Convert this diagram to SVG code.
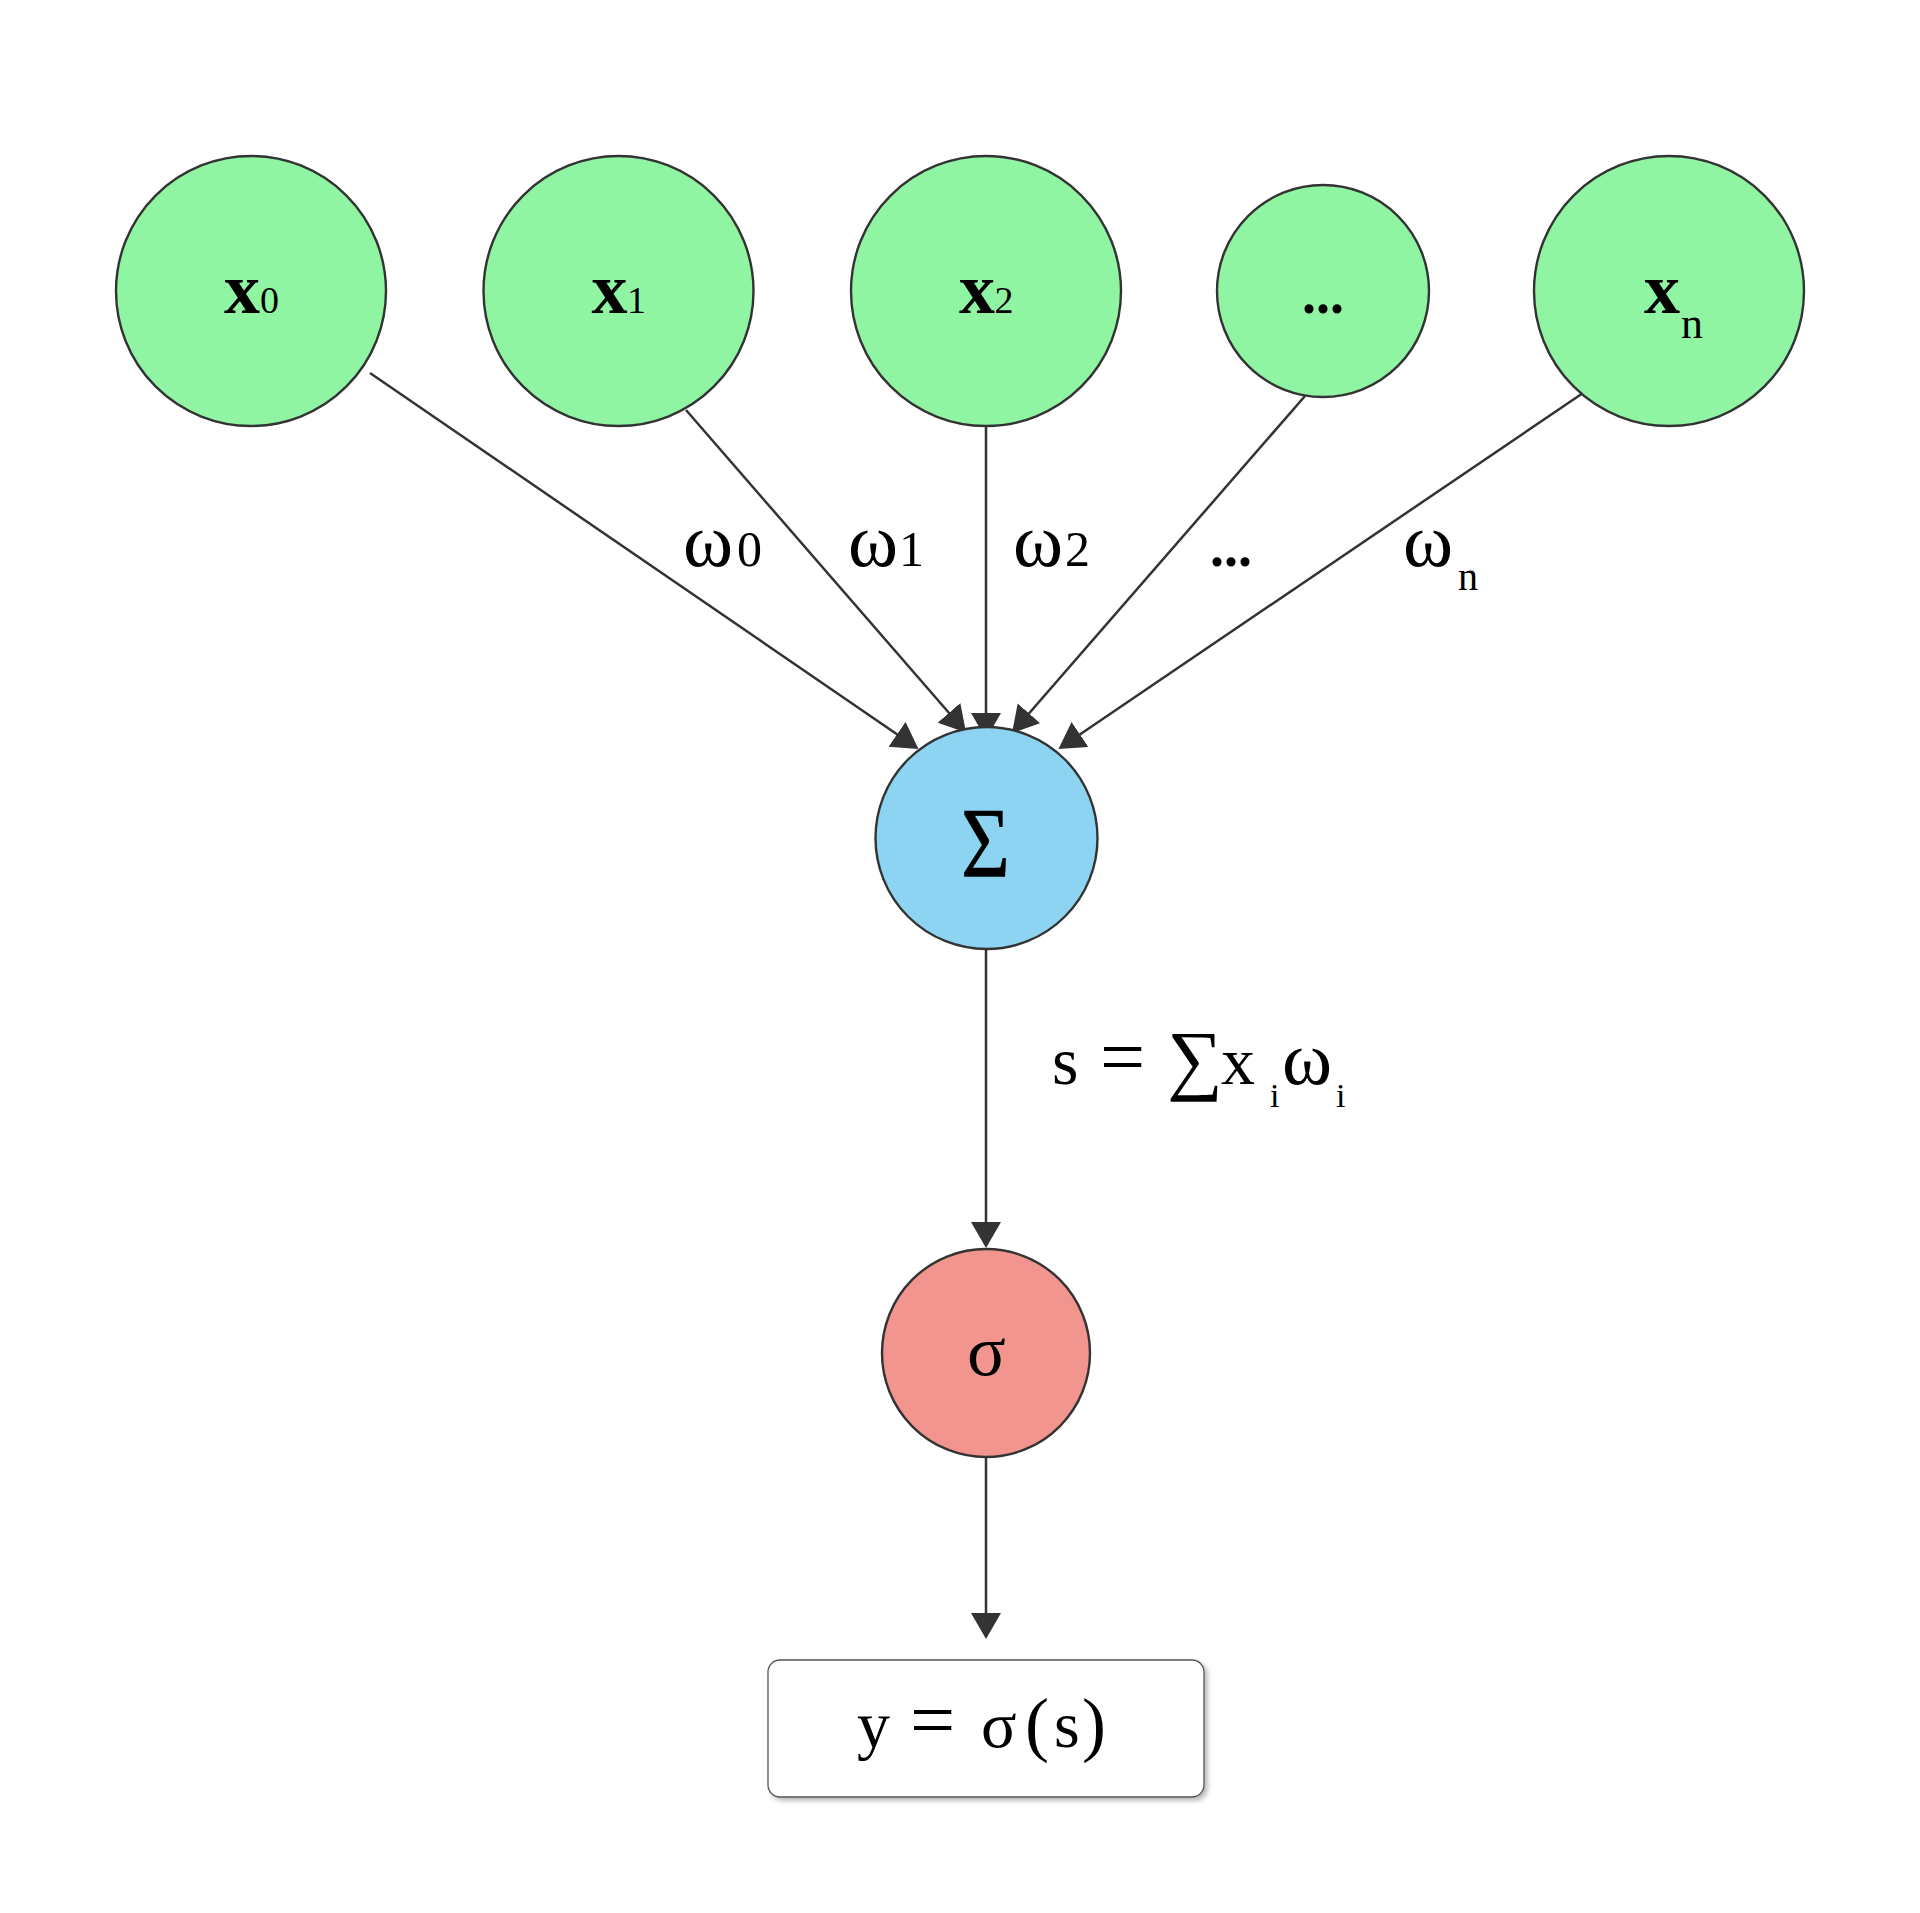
<svg xmlns="http://www.w3.org/2000/svg" width="1920" height="1913" viewBox="0 0 1920 1913">
<style>
.in{fill:#90F5A2;stroke:#333;stroke-width:2.4}
.sum{fill:#8DD4F2;stroke:#333;stroke-width:2.4}
.act{fill:#F2958E;stroke:#333;stroke-width:2.4}
.out{fill:#fff;stroke:#555;stroke-width:1.3}
.edge{stroke:#333;stroke-width:2.5;fill:none;marker-end:url(#ah)}
.t{font-family:"Liberation Serif","DejaVu Serif",serif;fill:#000}
.bx{font-weight:bold;font-size:72px}
.dots{font-weight:bold;font-size:56px}
</style>
<defs>
<marker id="ah" markerUnits="userSpaceOnUse" markerWidth="27" markerHeight="31" refX="22" refY="15" orient="auto">
<path d="M0,0 L26,15 L0,30 z" fill="#333"/>
</marker>
<filter id="sh" x="-10%" y="-10%" width="130%" height="140%">
<feDropShadow dx="3" dy="3" stdDeviation="2.5" flood-color="#000" flood-opacity="0.28"/>
</filter>
</defs>
<rect width="1920" height="1913" fill="#fff"/>

<g id="connectors">
<line class="edge" x1="370" y1="373" x2="915.2" y2="746.7"/>
<line class="edge" x1="686" y1="410" x2="963.4" y2="729.5"/>
<line class="edge" x1="986" y1="426" x2="986" y2="735"/>
<line class="edge" x1="1305" y1="396" x2="1014.6" y2="730"/>
<line class="edge" x1="1583" y1="393" x2="1061.8" y2="746.8"/>
<line class="edge" x1="986" y1="949" x2="986" y2="1244"/>
<line class="edge" x1="986" y1="1458" x2="986" y2="1635"/>
</g>

<g id="edge-labels" class="t">
<text y="566"><tspan x="683" font-size="76">ω</tspan><tspan x="737" font-size="50">0</tspan></text>
<text y="566"><tspan x="848" font-size="76">ω</tspan><tspan x="899" font-size="50">1</tspan></text>
<text y="566"><tspan x="1013" font-size="76">ω</tspan><tspan x="1065" font-size="50">2</tspan></text>
<text class="dots" x="1231" y="566" text-anchor="middle">...</text>
<text><tspan x="1403" y="566" font-size="76">ω</tspan><tspan x="1458" y="590" font-size="40">n</tspan></text>
<text font-size="68"><tspan x="1052" y="1084">s</tspan> <tspan x="1100" y="1084" font-size="80">=</tspan> <tspan x="1167" y="1085" font-size="78">∑</tspan> <tspan x="1221" y="1084">x</tspan><tspan x="1270" y="1107" font-size="34">i</tspan><tspan x="1282" y="1084" font-size="76">ω</tspan><tspan x="1336" y="1107" font-size="34">i</tspan></text>
</g>

<g id="node-x0">
<circle class="in" cx="251" cy="291" r="135"/>
<text class="t" y="313"><tspan class="bx" x="224">x</tspan><tspan x="260" font-size="38">0</tspan></text>
</g>
<g id="node-x1">
<circle class="in" cx="618.5" cy="291" r="135"/>
<text class="t" y="313"><tspan class="bx" x="591.5">x</tspan><tspan x="627" font-size="38">1</tspan></text>
</g>
<g id="node-x2">
<circle class="in" cx="986" cy="291" r="135"/>
<text class="t" y="313"><tspan class="bx" x="959">x</tspan><tspan x="994.5" font-size="38">2</tspan></text>
</g>
<g id="node-dots">
<circle class="in" cx="1323" cy="291" r="106"/>
<text class="t dots" x="1323" y="313" text-anchor="middle">...</text>
</g>
<g id="node-xn">
<circle class="in" cx="1669" cy="291" r="135"/>
<text class="t"><tspan class="bx" x="1644" y="313">x</tspan><tspan x="1681" y="338" font-size="44">n</tspan></text>
</g>

<g id="node-sum">
<circle class="sum" cx="986.5" cy="838" r="111"/>
<text class="t" font-size="100" text-anchor="middle" stroke="#000" stroke-width="0.6" transform="translate(985.5,876) scale(0.84,1)">Σ</text>
</g>

<g id="node-sigma">
<circle class="act" cx="986" cy="1353" r="104"/>
<text class="t" font-size="72" x="986.5" y="1375" text-anchor="middle">σ</text>
</g>

<g id="node-output">
<rect class="out" x="768" y="1660" width="436" height="137" rx="12" filter="url(#sh)"/>
<text class="t" font-size="66"><tspan x="857" y="1747">y</tspan> <tspan x="910" y="1747" font-size="80">=</tspan> <tspan x="981" y="1747">σ</tspan><tspan x="1025" y="1748" font-size="72">(</tspan><tspan x="1054" y="1747">s</tspan><tspan x="1082" y="1748" font-size="72">)</tspan></text>
</g>
</svg>
